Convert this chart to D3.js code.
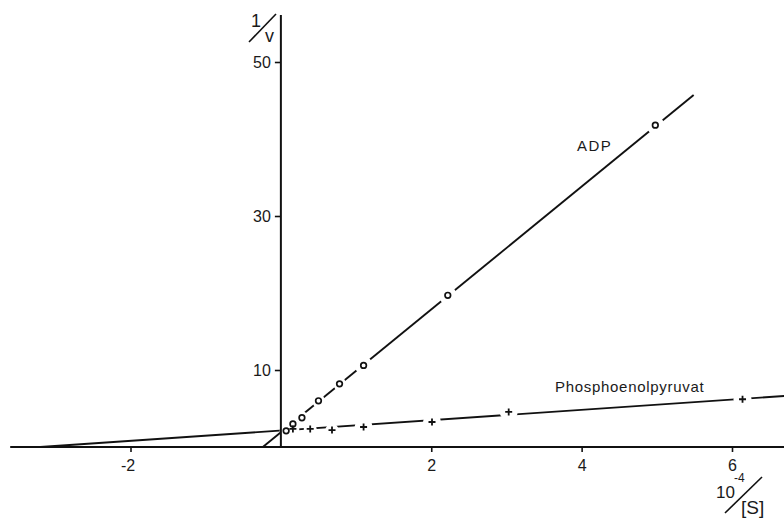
<!DOCTYPE html>
<html>
<head>
<meta charset="utf-8">
<script src="https://cdn.jsdelivr.net/npm/d3@7"></script>
<style>
  body { margin: 0; background: #fff; }
  svg text { font-family: "Liberation Sans", Arial, sans-serif; fill: #1a1a1a; }
</style>
</head>
<body>
<svg id="chart"></svg>
<script>
// Lineweaver-Burk: 1/v gegen 10^-4/[S]
var adpX = [0.07, 0.16, 0.28, 0.50, 0.78, 1.10, 2.22, 4.98]
var adpY = [2.1, 3.0, 3.8, 6.0, 8.2, 10.6, 19.7, 41.8]

var pepX = [0.16, 0.39, 0.68, 1.10, 2.01, 3.03, 6.14]
var pepY = [2.35, 2.35, 2.2, 2.6, 3.25, 4.55, 6.2]

// Ausgleichsgeraden (Endpunkte in Datenkoordinaten)
var adpFit = [[-0.24, 0], [5.49, 45.7]]
var pepFit = [[-3.2, 0], [6.7, 6.63]]

var xTicks = [-2, 2, 4, 6]
var yTicks = [10, 30, 50]
var xExtent = [-3.6, 6.7]
var yExtent = [0, 56.1]

var W = 784, H = 518

var svg = d3.select('#chart')
    .attr('width', W)
    .attr('height', H)

var x = d3.scaleLinear()
    .domain([-2, 6])
    .range([130.5, 732])

var y = d3.scaleLinear()
    .domain([0, 50])
    .range([447, 62])

var line = d3.line()
    .x(d => x(d[0]))
    .y(d => y(d[1]))

// Geraden
svg.selectAll('path.fit')
    .data([adpFit, pepFit])
    .join('path')
    .attr('class', 'fit')
    .attr('d', line)
    .attr('fill', 'none')
    .attr('stroke', '#111')
    .attr('stroke-width', 1.9)

var adp = adpX.map((v, i) => [v, adpY[i]])
var pep = pepX.map((v, i) => [v, pepY[i]])

// weisse Luecken um die Messpunkte
svg.selectAll('circle.halo')
    .data(adp.concat(pep))
    .join('circle')
    .attr('class', 'halo')
    .attr('cx', d => x(d[0]))
    .attr('cy', d => y(d[1]))
    .attr('r', d => d[0] > 1 ? 9 : 6.5)
    .attr('fill', '#fff')

// Achsen
var xa = d3.axisBottom(x)
    .tickValues(xTicks)
    .tickSize(5)
    .tickPadding(8)
    .tickFormat(d => d < 0 ? '-' + Math.abs(d) : d)

var gx = svg.append('g')
    .attr('transform', 'translate(0,' + y(0) + ')')
    .call(xa)
gx.select('.domain').remove()
gx.selectAll('line').attr('stroke', '#111').attr('stroke-width', 1.6)
gx.selectAll('text')
    .style('font-size', '16px')
    .attr('fill', '#1a1a1a')
    .attr('dx', d => d < 0 ? -3 : 0)

var ya = d3.axisLeft(y)
    .tickValues(yTicks)
    .tickSize(6)
    .tickPadding(4)

var gy = svg.append('g')
    .attr('transform', 'translate(' + x(0) + ',0)')
    .call(ya)
gy.select('.domain').remove()
gy.selectAll('line').attr('stroke', '#111').attr('stroke-width', 1.6)
gy.selectAll('text')
    .style('font-size', '16px')
    .attr('fill', '#1a1a1a')

svg.append('line')
    .attr('x1', x(xExtent[0])).attr('x2', x(xExtent[1]))
    .attr('y1', y(0)).attr('y2', y(0))
    .attr('stroke', '#111').attr('stroke-width', 2)

svg.append('line')
    .attr('x1', x(0)).attr('x2', x(0))
    .attr('y1', y(yExtent[0])).attr('y2', y(yExtent[1]))
    .attr('stroke', '#111').attr('stroke-width', 2)

// Messpunkte ADP (Kreise)
svg.selectAll('circle.adp')
    .data(adp)
    .join('circle')
    .attr('class', 'adp')
    .attr('cx', d => x(d[0]))
    .attr('cy', d => y(d[1]))
    .attr('r', 2.8)
    .attr('fill', '#fff')
    .attr('stroke', '#111')
    .attr('stroke-width', 1.7)

// Messpunkte PEP (Kreuze)
svg.selectAll('path.pep')
    .data(pep)
    .join('path')
    .attr('class', 'pep')
    .attr('transform', d => 'translate(' + x(d[0]) + ',' + y(d[1]) + ')')
    .attr('d', 'M-3.5,0H3.5M0,-3.5V3.5')
    .attr('stroke', '#111')
    .attr('stroke-width', 1.8)

// Beschriftungen
svg.append('text')
    .attr('x', 577).attr('y', 151)
    .style('font-size', '15px')
    .attr('letter-spacing', 1.5)
    .text('ADP')

svg.append('text')
    .attr('x', 555).attr('y', 392)
    .style('font-size', '15px')
    .attr('letter-spacing', 0.7)
    .text('Phosphoenolpyruvat')

// Achsentitel 1/v
var yl = svg.append('g')
yl.append('text').attr('x', 251).attr('y', 27).style('font-size', '18px').text('1')
yl.append('line')
    .attr('x1', 249).attr('y1', 42).attr('x2', 276).attr('y2', 14)
    .attr('stroke', '#111').attr('stroke-width', 1.6)
yl.append('text').attr('x', 265).attr('y', 42).style('font-size', '18px').text('v')

// Achsentitel 10^-4/[S]
var xl = svg.append('g')
xl.append('text').attr('x', 716).attr('y', 498).style('font-size', '17px').text('10')
xl.append('text').attr('x', 734).attr('y', 482).style('font-size', '12px').text('-4')
xl.append('line')
    .attr('x1', 725).attr('y1', 513).attr('x2', 762).attr('y2', 477)
    .attr('stroke', '#111').attr('stroke-width', 1.6)
xl.append('text').attr('x', 741).attr('y', 514).style('font-size', '19px').text('[S]')
</script>
</body>
</html>
